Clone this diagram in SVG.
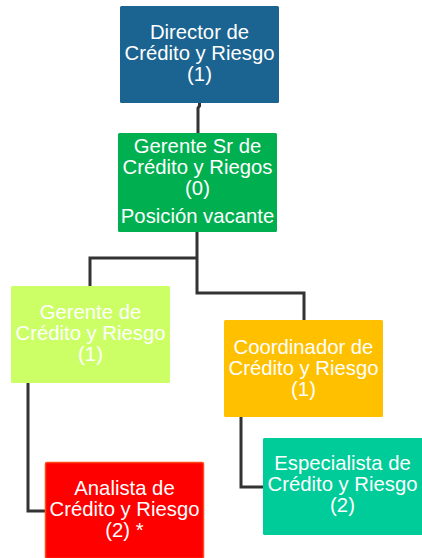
<svg xmlns="http://www.w3.org/2000/svg" width="422" height="558" viewBox="0 0 422 558">
<style>
.lbl{font-family:"Liberation Sans",Arial,sans-serif;font-size:20.3px;fill:#ffffff;text-anchor:middle}
.conn{fill:none;stroke:#333333;stroke-width:3;stroke-linejoin:miter}
</style>
<rect width="422" height="558" fill="#ffffff"/>
<g id="connectors">
<path class="conn" d="M199.5,103 L199.5,106 L198,108 L198,133"/>
<path class="conn" d="M197,232 L197,293 L304,293 L304,320"/>
<path class="conn" d="M197,258 L90,258 L90,286"/>
<path class="conn" d="M28,383 L28,511 L45,511"/>
<path class="conn" d="M241,417 L241,487 L263,487"/>
</g>
<g id="director">
<rect x="120" y="6" width="159" height="97" rx="1.5" fill="#1B6390"/>
<text class="lbl" x="199.5" y="39">Director de</text>
<text class="lbl" x="199.5" y="60">Crédito y Riesgo</text>
<text class="lbl" x="199.5" y="81">(1)</text>
</g>
<g id="gerente-sr">
<rect x="118" y="133" width="159" height="99" rx="1.5" fill="#00B050"/>
<text class="lbl" x="197.5" y="153">Gerente Sr de</text>
<text class="lbl" x="197.5" y="174">Crédito y Riegos</text>
<text class="lbl" x="197.5" y="195">(0)</text>
<text class="lbl" x="197.5" y="223">Posición vacante</text>
</g>
<g id="gerente">
<rect x="11" y="286" width="159" height="97" rx="1.5" fill="#CCFF66"/>
<text class="lbl" x="90.5" y="319">Gerente de</text>
<text class="lbl" x="90.5" y="340">Crédito y Riesgo</text>
<text class="lbl" x="90.5" y="361">(1)</text>
</g>
<g id="coordinador">
<rect x="224" y="320" width="159" height="97" rx="1.5" fill="#FFC000"/>
<text class="lbl" x="303.5" y="354">Coordinador de</text>
<text class="lbl" x="303.5" y="375">Crédito y Riesgo</text>
<text class="lbl" x="303.5" y="396">(1)</text>
</g>
<g id="analista">
<rect x="45.5" y="462.5" width="158" height="96" rx="1.5" fill="#FF0000" stroke="#FF4A1A" stroke-width="1.5"/>
<text class="lbl" x="124.5" y="495">Analista de</text>
<text class="lbl" x="124.5" y="516">Crédito y Riesgo</text>
<text class="lbl" x="124.5" y="537">(2) *</text>
</g>
<g id="especialista">
<rect x="263" y="438" width="160" height="97" rx="1.5" fill="#00CC99"/>
<text class="lbl" x="342.5" y="470">Especialista de</text>
<text class="lbl" x="342.5" y="491">Crédito y Riesgo</text>
<text class="lbl" x="342.5" y="512">(2)</text>
</g>
</svg>
